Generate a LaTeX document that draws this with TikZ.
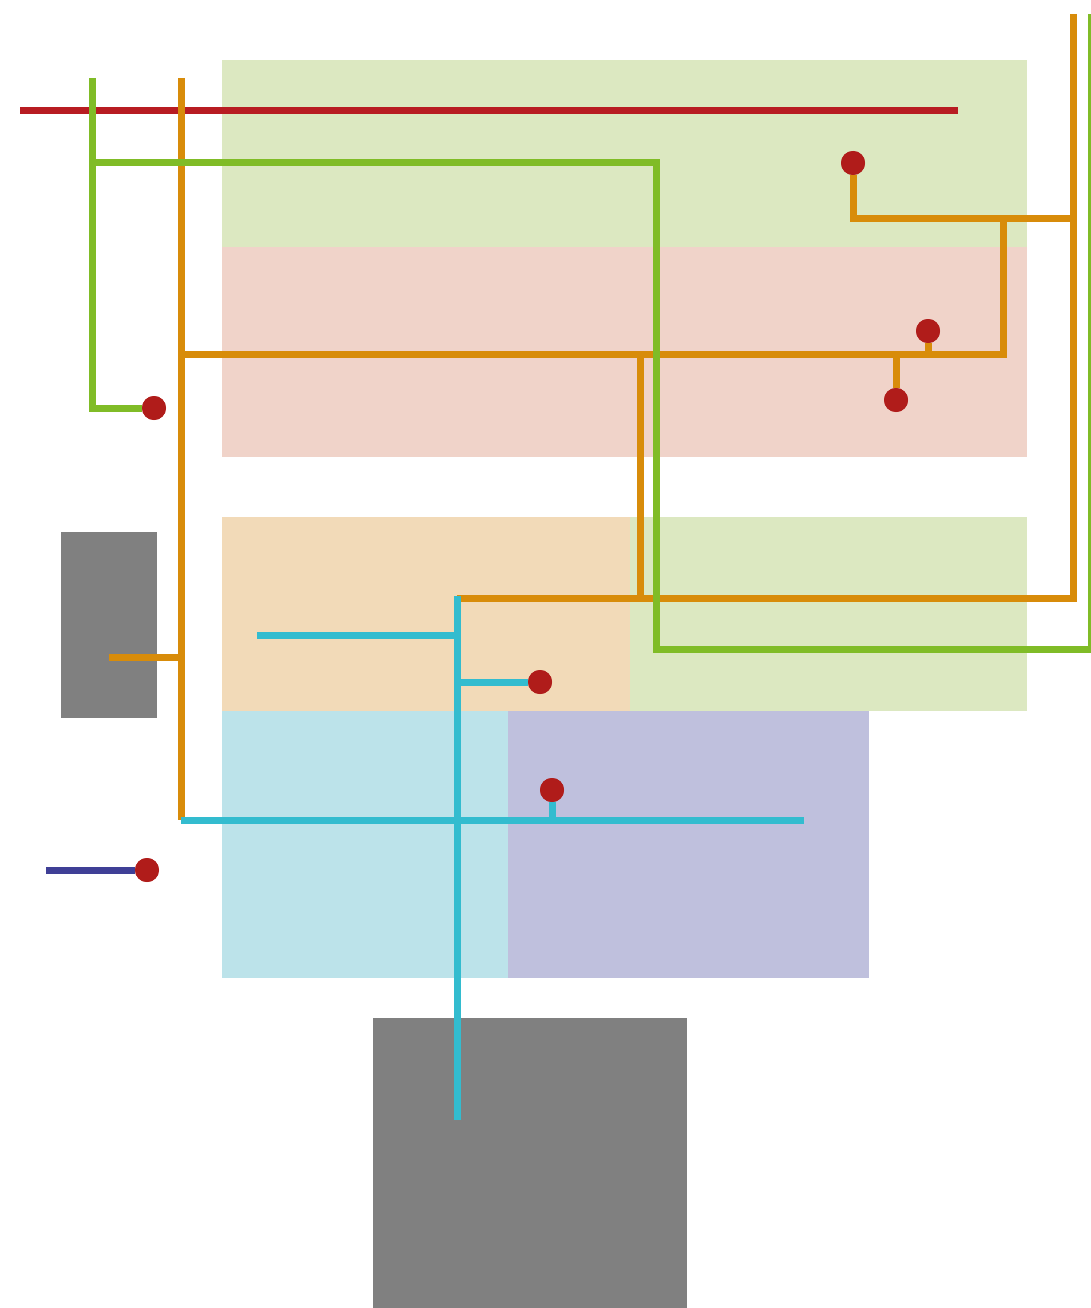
\documentclass[tikz,border=0pt]{standalone}
\definecolor{bggreen}{HTML}{DCE8C1}
\definecolor{bgred}{HTML}{F0D3C9}
\definecolor{bgorange}{HTML}{F2DAB8}
\definecolor{bgblue}{HTML}{BCE3EA}
\definecolor{bgviolet}{HTML}{BFC0DD}
\definecolor{boxgray}{HTML}{808080}
\definecolor{lred}{HTML}{B81C22}
\definecolor{lgreen}{HTML}{80BC27}
\definecolor{lorange}{HTML}{D88C0A}
\definecolor{lcyan}{HTML}{33BCCF}
\definecolor{lblue}{HTML}{3F3F96}
\definecolor{dotred}{HTML}{B01C1A}
\begin{document}
\begin{tikzpicture}[x=1pt,y=-1pt,
  zone/.style={fill=#1,draw=none},
  wire/.style={draw=#1,line width=7pt,line cap=butt,line join=miter},
  pin/.style={circle,fill=dotred,draw=none,minimum size=24pt,inner sep=0pt}]
\useasboundingbox (0,0) rectangle (1091,1308);
\begin{scope}
\clip (0,0) rectangle (1091,1308);
% zones
\fill[bggreen] (222,60) rectangle (1027,247);
\fill[bgred] (222,247) rectangle (1027,457);
\fill[bgorange] (222,517) rectangle (630,711);
\fill[bggreen] (630,517) rectangle (1027,711);
\fill[bgblue] (222,711) rectangle (508,978);
\fill[bgviolet] (508,711) rectangle (869,978);
\fill[boxgray] (61,532) rectangle (157,718);
\fill[boxgray] (373,1018) rectangle (687,1308);
% pins
\node[pin] (p1) at (154,408) {};
\node[pin] (p2) at (853,163) {};
\node[pin] (p3) at (928,331) {};
\node[pin] (p4) at (896,400) {};
\node[pin] (p5) at (540,682) {};
\node[pin] (p6) at (552,790) {};
\node[pin] (p7) at (147,870) {};
% coordinates
\coordinate (r1) at (20,111);
\coordinate (r2) at (958,111);
\coordinate (g0) at (92,78);
\coordinate (g1) at (92,163);
\coordinate (g2) at (656,163);
\coordinate (g3) at (656,649);
\coordinate (g4) at (1091.5,649);
\coordinate (g5) at (1091.5,14);
\coordinate (o0) at (181,78);
\coordinate (o1) at (181,354);
\coordinate (o2) at (181,657);
\coordinate (o3) at (181,820);
\coordinate (o4) at (109,657);
\coordinate (o5) at (1003,354);
\coordinate (o6) at (1003,218);
\coordinate (o7) at (853,218);
\coordinate (o8) at (1073,218);
\coordinate (o9) at (1073,14);
\coordinate (o10) at (1073,598);
\coordinate (o11) at (457,598);
\coordinate (o12) at (640,354);
\coordinate (o13) at (640,598);
\coordinate (o14) at (896,354);
\coordinate (o15) at (928,354);
\coordinate (c0) at (457,596);
\coordinate (c1) at (457,1120);
\coordinate (c2) at (257,635);
\coordinate (c3) at (457,635);
\coordinate (c4) at (457,682);
\coordinate (c5) at (804,820);
\coordinate (c6) at (552,820);
\coordinate (b0) at (46,870);
% red line
\draw[wire=lred] (r1) -- (r2);
% orange
\draw[wire=lorange] (o0) -- (o3);
\draw[wire=lorange] (o4) -- (o2);
\draw[wire=lorange] (o1) -- (o5) -- (o6);
\draw[wire=lorange] (p2) -- (o7) -- (o8);
\draw[wire=lorange] (o9) -- (o10) -- (o11);
\draw[wire=lorange] (o12) -- (o13);
\draw[wire=lorange] (o14) -- (p4);
\draw[wire=lorange] (o15) -- (p3);
% green
\draw[wire=lgreen] (g0) -- (g1 |- p1) -- (p1);
\draw[wire=lgreen] (g1) -- (g2) -- (g3) -- (g4) -- (g5);
% cyan
\draw[wire=lcyan] (c0) -- (c1);
\draw[wire=lcyan] (c2) -- (c3);
\draw[wire=lcyan] (c4) -- (p5);
\draw[wire=lcyan] (o3) -- (c5);
\draw[wire=lcyan] (c6) -- (p6);
% blue
\draw[wire=lblue] (b0) -- (p7);
% pins on top
\foreach \p in {p1,p2,p3,p4,p5,p6,p7} \fill[dotred] (\p) circle (12pt);
\end{scope}
\end{tikzpicture}
\end{document}
